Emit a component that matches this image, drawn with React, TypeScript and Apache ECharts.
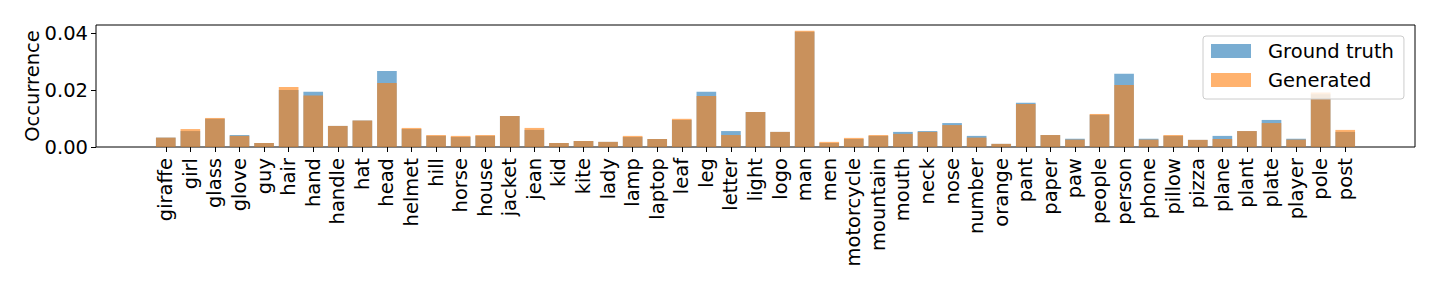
import React, { useEffect, useRef } from "react";
import * as echarts from "echarts";

const categories = [
  "giraffe", "girl", "glass", "glove", "guy", "hair", "hand", "handle", "hat", "head",
  "helmet", "hill", "horse", "house", "jacket", "jean", "kid", "kite", "lady", "lamp",
  "laptop", "leaf", "leg", "letter", "light", "logo", "man", "men", "motorcycle", "mountain",
  "mouth", "neck", "nose", "number", "orange", "pant", "paper", "paw", "people", "person",
  "phone", "pillow", "pizza", "plane", "plant", "plate", "player", "pole", "post",
];

const groundTruth = [
  0.0033, 0.0056, 0.0099, 0.0042, 0.0014, 0.0200, 0.0194, 0.0074, 0.0093, 0.0267,
  0.0063, 0.0039, 0.0035, 0.0039, 0.0109, 0.0060, 0.0014, 0.0021, 0.0018, 0.0035,
  0.0028, 0.0095, 0.0194, 0.0056, 0.0123, 0.0053, 0.0405, 0.0014, 0.0028, 0.0039,
  0.0053, 0.0056, 0.0084, 0.0039, 0.0011, 0.0155, 0.0042, 0.0029, 0.0113, 0.0257,
  0.0029, 0.0039, 0.0025, 0.0039, 0.0056, 0.0095, 0.0029, 0.0185, 0.0053,
];

const generated = [
  0.0033, 0.0063, 0.0102, 0.0039, 0.0014, 0.0211, 0.0181, 0.0074, 0.0093, 0.0225,
  0.0067, 0.0042, 0.0039, 0.0042, 0.0109, 0.0067, 0.0014, 0.0021, 0.0018, 0.0039,
  0.0028, 0.0099, 0.0179, 0.0042, 0.0123, 0.0053, 0.0408, 0.0018, 0.0032, 0.0042,
  0.0046, 0.0053, 0.0077, 0.0033, 0.0011, 0.0151, 0.0042, 0.0026, 0.0116, 0.0218,
  0.0026, 0.0042, 0.0025, 0.0028, 0.0056, 0.0084, 0.0026, 0.0191, 0.0060,
];

const yTicks = [0, 0.02, 0.04];
const Y_MAX = 0.04284;
const FONT = "DejaVu Sans";
const FS = 19.5;

export default function App() {
  const ref = useRef<HTMLDivElement>(null);
  useEffect(() => {
    if (!ref.current) return;
    const chart = echarts.init(ref.current, null, { renderer: "svg" });
    const frameLeft = 96;
    const frameRight = 1415;
    const unit = (frameRight - frameLeft) / 53.68;
    const innerLeft = frameLeft + 2.34 * unit;
    const innerWidth = 49 * unit;
    chart.setOption({
      animation: false,
      backgroundColor: "#ffffff",
      textStyle: { fontFamily: FONT },
      grid: [
        {
          left: frameLeft,
          right: 1440 - frameRight,
          top: 25,
          bottom: 141,
          show: true,
          borderColor: "#000",
          borderWidth: 1,
          backgroundColor: "transparent",
          outerBoundsMode: "none",
        },
        {
          left: innerLeft,
          width: innerWidth,
          top: 25,
          bottom: 141,
          outerBoundsMode: "none",
        },
      ],
      xAxis: [
        {
          gridIndex: 0,
          type: "value",
          min: 0,
          max: 1,
          show: false,
        },
        {
          gridIndex: 1,
          type: "category",
          data: categories,
          boundaryGap: true,
          axisLine: { show: false },
          axisTick: {
            show: true,
            alignWithLabel: true,
            length: 5,
            lineStyle: { color: "#000", width: 1 },
          },
          axisLabel: {
            interval: 0,
            rotate: 90,
            margin: 11,
            fontSize: FS,
            fontFamily: FONT,
            color: "#000",
          },
          splitLine: { show: false },
        },
      ],
      yAxis: [
        {
          gridIndex: 0,
          type: "value",
          min: 0,
          max: Y_MAX,
          interval: 0.02,
          axisLine: { show: false },
          axisTick: { show: true, length: 5, lineStyle: { color: "#000", width: 1 } },
          axisLabel: {
            fontSize: FS,
            fontFamily: FONT,
            color: "#000",
            margin: 8,
            showMaxLabel: false,
            formatter: (v: number) =>
              yTicks.some((t) => Math.abs(t - v) < 1e-9) ? v.toFixed(2) : "",
          },
          splitLine: { show: false },
          name: "Occurrence",
          nameLocation: "middle",
          nameGap: 54,
          nameMoveOverlap: false,
          nameTextStyle: { fontSize: FS, fontFamily: FONT, color: "#000" },
        },
        {
          gridIndex: 1,
          type: "value",
          min: 0,
          max: Y_MAX,
          show: false,
        },
      ],
      legend: {
        data: ["Ground truth", "Generated"],
        orient: "vertical",
        left: 1203,
        top: 36,
        icon: "rect",
        itemWidth: 40,
        itemHeight: 14,
        itemGap: 7,
        padding: [4, 10, 8, 8],
        backgroundColor: "rgba(255,255,255,0.8)",
        borderColor: "#cccccc",
        borderWidth: 1,
        borderRadius: 3,
        textStyle: {
          fontSize: FS,
          fontFamily: FONT,
          color: "#000",
          lineHeight: 22,
          padding: [0, 0, 0, 12],
        },
      },
      series: [
        {
          name: "Ground truth",
          type: "bar",
          xAxisIndex: 1,
          yAxisIndex: 1,
          data: groundTruth,
          barWidth: "80%",
          barGap: "-100%",
          itemStyle: { color: "rgba(31,119,180,0.6)" },
        },
        {
          name: "Generated",
          type: "bar",
          xAxisIndex: 1,
          yAxisIndex: 1,
          data: generated,
          barWidth: "80%",
          barGap: "-100%",
          itemStyle: { color: "rgba(255,127,14,0.6)" },
        },
      ],
    });
    return () => chart.dispose();
  }, []);
  return (
    <div
      ref={ref}
      style={{ position: "fixed", left: 0, top: 0, width: 1440, height: 288, background: "#fff" }}
    />
  );
}
